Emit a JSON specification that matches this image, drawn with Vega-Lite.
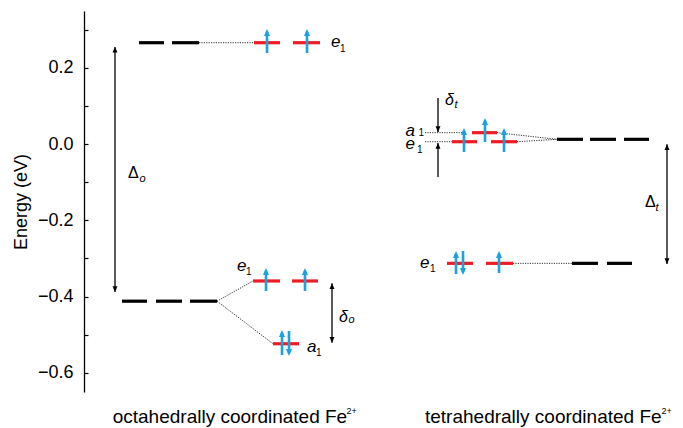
{
  "$schema": "https://vega.github.io/schema/vega-lite/v6.json",
  "width": 599,
  "height": 381,
  "autosize": {"type": "none"},
  "padding": {"left": 84, "top": 11, "right": 0, "bottom": 36},
  "config": {
    "view": {"stroke": null},
    "font": "Liberation Sans",
    "text": {"font": "Liberation Sans", "color": "#000"}
  },
  "resolve": {"axis": {"y": "independent"}},
  "datasets": {
    "levels": [
      {"x": 139, "x2": 164, "y": 0.2655, "kind": "free"},
      {"x": 172, "x2": 199, "y": 0.2655, "kind": "free"},
      {"x": 254, "x2": 280, "y": 0.2655, "kind": "split"},
      {"x": 293, "x2": 320, "y": 0.2655, "kind": "split"},
      {"x": 122, "x2": 147, "y": -0.412, "kind": "free"},
      {"x": 156, "x2": 182, "y": -0.412, "kind": "free"},
      {"x": 190, "x2": 217, "y": -0.412, "kind": "free"},
      {"x": 253, "x2": 280, "y": -0.359, "kind": "split"},
      {"x": 292, "x2": 318, "y": -0.359, "kind": "split"},
      {"x": 273, "x2": 299, "y": -0.5235, "kind": "split"},
      {"x": 557, "x2": 583, "y": 0.0123, "kind": "free"},
      {"x": 590, "x2": 616, "y": 0.0123, "kind": "free"},
      {"x": 624, "x2": 649, "y": 0.0123, "kind": "free"},
      {"x": 452, "x2": 477, "y": 0.006, "kind": "split"},
      {"x": 491, "x2": 517, "y": 0.006, "kind": "split"},
      {"x": 472, "x2": 497, "y": 0.0297, "kind": "split"},
      {"x": 447, "x2": 473, "y": -0.3128, "kind": "split"},
      {"x": 486, "x2": 513, "y": -0.3128, "kind": "split"},
      {"x": 572, "x2": 598, "y": -0.3128, "kind": "free"},
      {"x": 607, "x2": 632, "y": -0.3128, "kind": "free"}
    ],
    "connectors": [
      {"x": 199, "x2": 254, "y": 0.2655, "y2": 0.2655},
      {"x": 217, "x2": 253, "y": -0.412, "y2": -0.359},
      {"x": 217, "x2": 273, "y": -0.412, "y2": -0.5235},
      {"x": 425, "x2": 464, "y": 0.0297, "y2": 0.0297},
      {"x": 425, "x2": 452, "y": 0.006, "y2": 0.006},
      {"x": 497, "x2": 557, "y": 0.0297, "y2": 0.0123},
      {"x": 517, "x2": 557, "y": 0.006, "y2": 0.0123},
      {"x": 513, "x2": 572, "y": -0.3128, "y2": -0.3128}
    ],
    "spins": [
      {"x": 267, "y": 0.2385, "y2": 0.2946, "dir": "up"},
      {"x": 307, "y": 0.2385, "y2": 0.2946, "dir": "up"},
      {"x": 266, "y": -0.3853, "y2": -0.3318, "dir": "up"},
      {"x": 305, "y": -0.3853, "y2": -0.3318, "dir": "up"},
      {"x": 282, "y": -0.5531, "y2": -0.4944, "dir": "up"},
      {"x": 289, "y": -0.4902, "y2": -0.5489, "dir": "down"},
      {"x": 464, "y": -0.021, "y2": 0.0351, "dir": "up"},
      {"x": 485, "y": 0.0052, "y2": 0.0613, "dir": "up"},
      {"x": 504, "y": -0.021, "y2": 0.0351, "dir": "up"},
      {"x": 456, "y": -0.3408, "y2": -0.2873, "dir": "up"},
      {"x": 463, "y": -0.2805, "y2": -0.3366, "dir": "down"},
      {"x": 499, "y": -0.3381, "y2": -0.2873, "dir": "up"}
    ],
    "gaps": [
      {"x": 115, "y": 0.2543, "y2": -0.3879},
      {"x": 332, "y": -0.3651, "y2": -0.5208},
      {"x": 438, "y": 0.1206, "y2": 0.0315},
      {"x": 438, "y": -0.0865, "y2": 0.0026},
      {"x": 667, "y": -0.0008, "y2": -0.3145}
    ],
    "gapHeads": [
      {"x": 115, "y": 0.2488, "dir": "up"},
      {"x": 115, "y": -0.3824, "dir": "down"},
      {"x": 332, "y": -0.3706, "dir": "up"},
      {"x": 332, "y": -0.5153, "dir": "down"},
      {"x": 438, "y": 0.037, "dir": "down"},
      {"x": 438, "y": -0.0029, "dir": "up"},
      {"x": 667, "y": -0.0063, "dir": "up"},
      {"x": 667, "y": -0.309, "dir": "down"}
    ],
    "orbitals": [
      {"x": 331, "y": 0.2543, "t": "e"},
      {"x": 237, "y": -0.3329, "t": "e"},
      {"x": 307, "y": -0.5452, "t": "a"},
      {"x": 405.5, "y": 0.021, "t": "a"},
      {"x": 405.5, "y": -0.0118, "t": "e"},
      {"x": 420, "y": -0.325, "t": "e"}
    ],
    "orbitalSubs": [
      {"x": 340, "y": 0.2411, "t": "1"},
      {"x": 246, "y": -0.3434, "t": "1"},
      {"x": 316, "y": -0.5557, "t": "1"},
      {"x": 418.5, "y": 0.0197, "t": "1"},
      {"x": 417, "y": -0.0236, "t": "1"},
      {"x": 430, "y": -0.3347, "t": "1"}
    ],
    "bigDelta": [
      {"x": 128, "y": -0.0891, "t": "Δ"},
      {"x": 645, "y": -0.1643, "t": "Δ"}
    ],
    "smallDelta": [
      {"x": 339, "y": -0.4666, "t": "δ"},
      {"x": 445, "y": 0.1022, "t": "δ"}
    ],
    "deltaSubs": [
      {"x": 139.5, "y": -0.0983, "t": "o"},
      {"x": 655.5, "y": -0.1769, "t": "t"},
      {"x": 348.5, "y": -0.4692, "t": "o"},
      {"x": 454.5, "y": 0.0944, "t": "t"}
    ],
    "captions": [
      {"x": 112.7, "y": -0.7321, "t": "octahedrally coordinated Fe"},
      {"x": 425, "y": -0.7321, "t": "tetrahedrally coordinated Fe"}
    ],
    "captionSups": [
      {"x": 346.5, "y": -0.7077, "t": "2+"},
      {"x": 661.5, "y": -0.7077, "t": "2+"}
    ]
  },
  "encoding": {
    "x": {"field": "x", "type": "quantitative", "scale": {"domain": [84, 683], "nice": false, "zero": false}, "axis": null},
    "y": {"field": "y", "type": "quantitative", "scale": {"domain": [-0.65, 0.3486], "nice": false, "zero": false}, "axis": null}
  },
  "layer": [
    {
      "data": {"name": "connectors"},
      "mark": {"type": "rule", "color": "#333", "strokeWidth": 1, "strokeDash": [1.2, 1.2]},
      "encoding": {
        "y": {
          "field": "y", "type": "quantitative",
          "scale": {"domain": [-0.65, 0.3486], "nice": false, "zero": false},
          "axis": {
            "orient": "left",
            "title": "Energy (eV)",
            "values": [-0.6, -0.4, -0.2, 0, 0.2],
            "format": ".1f",
            "grid": false,
            "ticks": false,
            "domainColor": "#000",
            "domainWidth": 1.3,
            "labelFont": "Liberation Sans",
            "labelFontSize": 18,
            "labelColor": "#000",
            "labelPadding": 11,
            "titleFont": "Liberation Sans",
            "titleFontSize": 18,
            "titleFontWeight": "normal",
            "titleColor": "#000",
            "titlePadding": 7
          }
        },
        "x2": {"field": "x2"}, "y2": {"field": "y2"}
      }
    },
    {
      "data": {"name": "levels"},
      "mark": {"type": "rule", "strokeWidth": 3.2, "strokeCap": "butt"},
      "encoding": {
        "y": {
          "field": "y", "type": "quantitative",
          "scale": {"domain": [-0.65, 0.3486], "nice": false, "zero": false},
          "axis": {
            "orient": "right",
            "offset": -599,
            "title": null,
            "values": [-0.6, -0.5, -0.4, -0.3, -0.2, -0.1, 0, 0.1, 0.2, 0.3],
            "labels": false,
            "domain": false,
            "grid": false,
            "ticks": true,
            "tickSize": 4,
            "tickColor": "#000",
            "tickWidth": 1.2
          }
        },
        "x2": {"field": "x2"},
        "color": {"field": "kind", "type": "nominal", "scale": {"domain": ["free", "split"], "range": ["#000000", "#ee1d23"]}, "legend": null}
      }
    },
    {
      "data": {"name": "gaps"},
      "mark": {"type": "rule", "color": "#000", "strokeWidth": 1.3},
      "encoding": {"y2": {"field": "y2"}}
    },
    {
      "data": {"name": "gapHeads"},
      "mark": {"type": "point", "filled": true, "color": "#000", "size": 50, "opacity": 1},
      "encoding": {
        "shape": {"field": "dir", "type": "nominal", "scale": {"domain": ["up", "down"], "range": ["M0,-0.6L-0.7,1L0.7,1Z", "M0,0.6L-0.7,-1L0.7,-1Z"]}, "legend": null}
      }
    },
    {
      "data": {"name": "spins"},
      "mark": {"type": "rule", "color": "#1ba1e2", "strokeWidth": 2.6},
      "encoding": {"y2": {"field": "y2"}}
    },
    {
      "data": {"name": "spins"},
      "mark": {"type": "point", "filled": true, "color": "#1ba1e2", "size": 75, "opacity": 1},
      "encoding": {
        "y": {"field": "y2", "type": "quantitative", "scale": {"domain": [-0.65, 0.3486], "nice": false, "zero": false}, "axis": null},
        "shape": {"field": "dir", "type": "nominal", "scale": {"domain": ["up", "down"], "range": ["M0,-0.6L-0.7,1L0.7,1Z", "M0,0.6L-0.7,-1L0.7,-1Z"]}, "legend": null}
      }
    },
    {
      "data": {"name": "orbitals"},
      "mark": {"type": "text", "fontSize": 17, "fontStyle": "italic", "align": "left", "baseline": "alphabetic"},
      "encoding": {"text": {"field": "t"}}
    },
    {
      "data": {"name": "orbitalSubs"},
      "mark": {"type": "text", "fontSize": 10, "align": "left", "baseline": "alphabetic"},
      "encoding": {"text": {"field": "t"}}
    },
    {
      "data": {"name": "bigDelta"},
      "mark": {"type": "text", "fontSize": 16, "align": "left", "baseline": "alphabetic"},
      "encoding": {"text": {"field": "t"}}
    },
    {
      "data": {"name": "smallDelta"},
      "mark": {"type": "text", "fontSize": 16, "fontStyle": "italic", "align": "left", "baseline": "alphabetic"},
      "encoding": {"text": {"field": "t"}}
    },
    {
      "data": {"name": "deltaSubs"},
      "mark": {"type": "text", "fontSize": 11, "fontStyle": "italic", "align": "left", "baseline": "alphabetic"},
      "encoding": {"text": {"field": "t"}}
    },
    {
      "data": {"name": "captions"},
      "mark": {"type": "text", "fontSize": 19, "align": "left", "baseline": "alphabetic"},
      "encoding": {"text": {"field": "t"}}
    },
    {
      "data": {"name": "captionSups"},
      "mark": {"type": "text", "fontSize": 9, "align": "left", "baseline": "alphabetic"},
      "encoding": {"text": {"field": "t"}}
    }
  ]
}
